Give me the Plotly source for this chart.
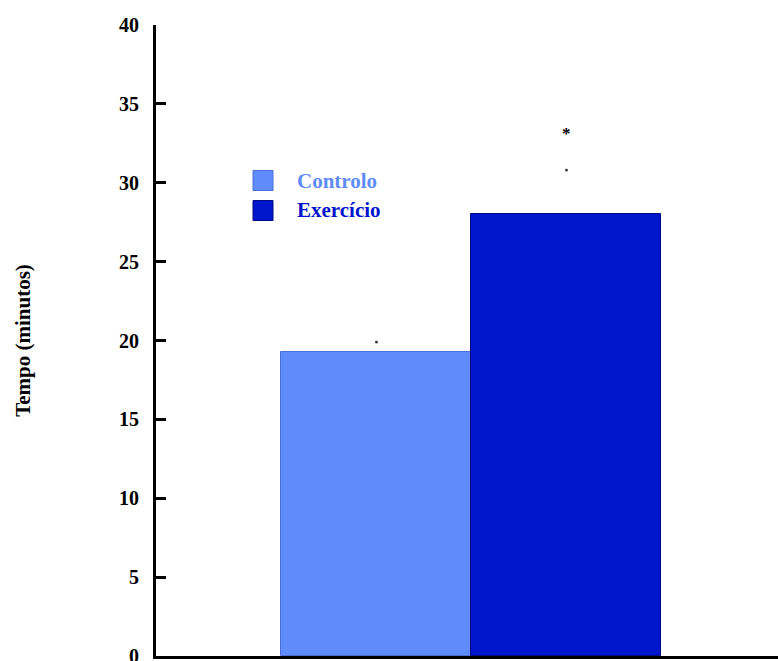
import plotly.graph_objects as go

# Mean time per group with its error, in minutes
groups = ["Controlo", "Exercício"]
means = [19.3, 28.0]
errors = [0.6, 2.8]
colors = ["#608BFA", "#0016CC"]
edge_colors = ["#4A6FD8", "#000A80"]
y_ticks = [0, 5, 10, 15, 20, 25, 30, 35, 40]

W, H = 778, 661
L, R, T, B = 156, 0, 25, 5

fig = go.Figure()

for i, (g, m, c, ec) in enumerate(zip(groups, means, colors, edge_colors)):
    fig.add_trace(go.Bar(
        x=[i], y=[m], width=1, name=g,
        marker=dict(color=c, line=dict(color=ec, width=1)),
        showlegend=False, hoverinfo="skip",
    ))

# Error ends drawn as single small points
fig.add_trace(go.Scatter(
    x=list(range(len(groups))),
    y=[m + e for m, e in zip(means, errors)],
    mode="markers",
    marker=dict(symbol="square", size=2.5, color="#333333"),
    showlegend=False, hoverinfo="skip",
))

# Significance mark above the exercise group
fig.add_annotation(
    x=1, y=means[1] + errors[1] + 2.3, text="<b>*</b>", showarrow=False,
    font=dict(family="Liberation Serif", size=17, color="black"),
    xref="x", yref="y",
)

# Hand-built legend: coloured squares with coloured labels
pw, ph = W - L - R, H - T - B
def px_x(p):
    return (p - L) / pw
def px_y(p):
    return (H - B - p) / ph

legend_rows = [180.5, 210.5]
for g, c, ec, yc in zip(groups, colors, edge_colors, legend_rows):
    fig.add_shape(
        type="rect", xref="paper", yref="paper",
        x0=px_x(253), x1=px_x(273), y0=px_y(yc - 10), y1=px_y(yc + 10),
        fillcolor=c, line=dict(color=ec, width=1),
    )
    fig.add_annotation(
        x=px_x(295), y=px_y(yc), xref="paper", yref="paper",
        xanchor="left", yanchor="middle", showarrow=False,
        text=f"<b>{g}</b>",
        font=dict(family="Liberation Serif", size=21, color=c),
    )

fig.update_layout(
    width=W, height=H,
    margin=dict(l=L, r=R, t=T, b=B, pad=0, autoexpand=False),
    paper_bgcolor="white", plot_bgcolor="white",
    bargap=0, showlegend=False,
    xaxis=dict(
        range=[-1.1605, 2.1135], showgrid=False, zeroline=False,
        showticklabels=False, ticks="", automargin=False,
        showline=True, linewidth=3, linecolor="black",
    ),
    yaxis=dict(
        range=[0, 40], tickvals=y_ticks,
        ticktext=[f"<b>{v}</b>" for v in y_ticks],
        showgrid=False, zeroline=False, automargin=False,
        showline=True, linewidth=3, linecolor="black",
        ticks="inside", ticklen=10, tickwidth=2.5, tickcolor="black",
        tickfont=dict(family="Liberation Serif", size=20, color="black"),
        ticklabelstandoff=10, ticklabeloverflow="allow",
        title=dict(
            text="<b>Tempo (minutos)</b>", standoff=83,
            font=dict(family="Liberation Serif", size=21, color="black"),
        ),
    ),
)

fig.write_html("out.html")
